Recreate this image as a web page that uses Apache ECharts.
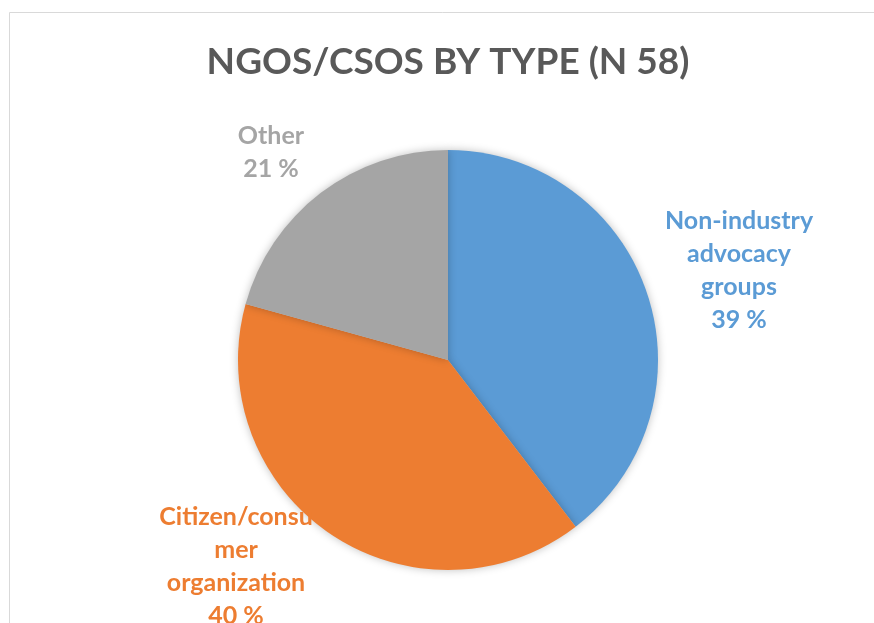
<!DOCTYPE html>
<html>
<head>
<meta charset="utf-8">
<script src="https://cdn.jsdelivr.net/npm/echarts@6/dist/echarts.min.js"></script>
<style>
  html, body { margin: 0; padding: 0; background: #fff; }
  .chart_box { width: 874px; height: 623px; }
</style>
</head>
<body>
<div class="chart_box"></div>
<script>
  // data
  var categories = ['Non-industry advocacy groups', 'Citizen/consumer organization', 'Other'];
  var labelTexts = ['Non-industry\nadvocacy\ngroups', 'Citizen/consu\nmer\norganization', 'Other'];
  var shares = [39.6, 39.7, 20.7];
  var colors = ['#5B9BD5', '#ED7D31', '#A5A5A5'];

  // label centres (layout only)
  var labelPos = [[739, 270], [236, 566], [271, 152]];

  var myChart = echarts.init(document.querySelector('.chart_box'));

  var option = {
    backgroundColor: '#fff',
    title: {
      text: 'NGOS/CSOS BY TYPE (N 58)',
      left: 443,
      textAlign: 'center',
      top: 39,
      textStyle: {
        fontFamily: 'Lato',
        fontSize: 37,
        fontWeight: 'bold',
        color: '#595959'
      }
    },
    graphic: [{
      type: 'polyline',
      shape: { points: [[9.5, 640], [9.5, 12.5], [880, 12.5]] },
      style: { stroke: '#D9D9D9', fill: null, lineWidth: 1 },
      silent: true
    }],
    series: [{
      type: 'pie',
      radius: 210,
      center: [448, 360],
      startAngle: 90,
      clockwise: true,
      animation: false,
      percentPrecision: 0,
      itemStyle: {
        shadowBlur: 8,
        shadowColor: 'rgba(0,0,0,0.25)'
      },
      label: {
        show: true,
        position: 'outside',
        fontFamily: 'Lato',
        fontSize: 25,
        fontWeight: 'bold',
        lineHeight: 33,
        align: 'center',
        formatter: function (p) {
          return labelTexts[p.dataIndex] + '\n' + p.percent + ' %';
        }
      },
      labelLine: { show: false },
      labelLayout: function (p) {
        return {
          x: labelPos[p.dataIndex][0],
          y: labelPos[p.dataIndex][1],
          align: 'center',
          verticalAlign: 'middle'
        };
      },
      data: categories.map(function (name, i) {
        return {
          name: name,
          value: shares[i],
          itemStyle: { color: colors[i] },
          label: { color: colors[i] }
        };
      })
    }]
  };

  myChart.setOption(option);
</script>
</body>
</html>
